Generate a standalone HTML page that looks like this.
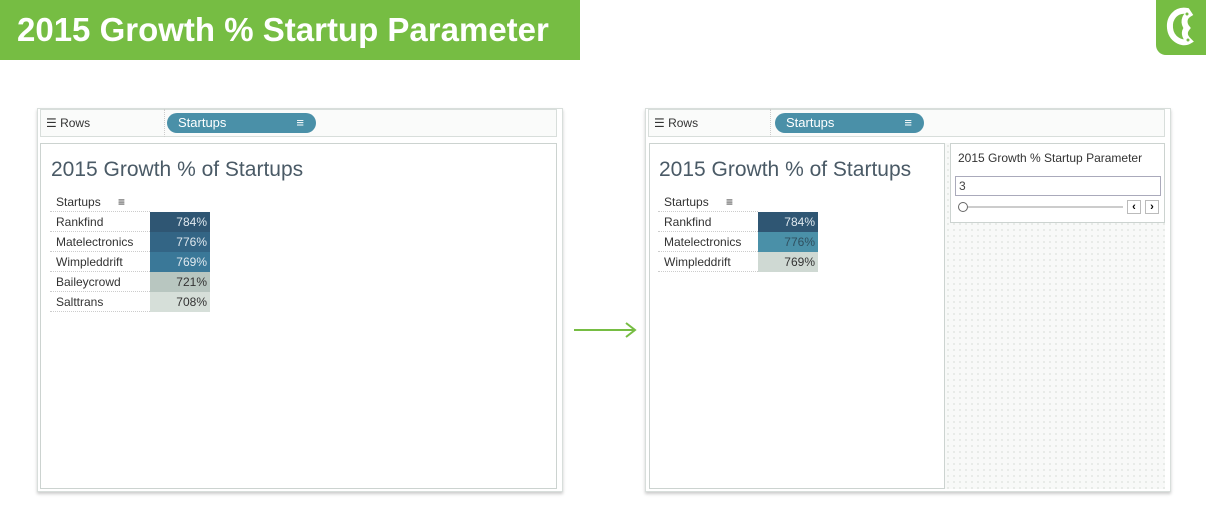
<!DOCTYPE html>
<html><head><meta charset="utf-8"><style>
body{margin:0;width:1206px;height:523px;background:#fff;position:relative;overflow:hidden;font-family:"Liberation Sans",sans-serif;}
.a{position:absolute;box-sizing:border-box;}
.banner{left:0;top:0;width:580px;height:60px;background:#76bd43;color:#fff;font-weight:bold;font-size:33px;line-height:60px;padding-left:17px;}
.logo{left:1156px;top:0;width:50px;height:55px;background:#76bd43;border-bottom-left-radius:10px;}
.frame{border:1px solid #d8dedb;box-shadow:0 2px 3px #ccc;background:#fff;}
.shelf{border:1px solid #d8dedb;background:#fafbfa;}
.pill{background:#4a90a8;border-radius:11px;color:#fff;font-size:13px;line-height:20px;padding-left:11px;}
.panel{border:1px solid #ccd3d0;background:#fff;}
.title{font-size:21px;color:#4a5a66;}
.lab{font-size:12px;color:#333;}
.val{font-size:12px;text-align:right;padding-right:3px;line-height:20px;height:20px;width:60px;}
.txt{font-size:12px;line-height:20px;height:20px;color:#333;border-bottom:1px dotted #ccc;width:100px;padding-left:6px;}
</style></head><body>
<div class="a banner">2015 Growth % Startup Parameter</div>
<div class="a logo"><svg width="50" height="55"><path d="M31 11 C20 9 13 18 14 28 C15 39 26 45 33 41 C29 37 27 33 31 28 C27 23 28 17 33 14Z" fill="none" stroke="#fff" stroke-width="6"/><circle cx="31" cy="14" r="1.5" fill="#76bd43"/><circle cx="32" cy="40" r="1.5" fill="#76bd43"/></svg></div>

<!-- left -->
<div class="a frame" style="left:37px;top:108px;width:526px;height:384px"></div>
<div class="a shelf" style="left:40px;top:109px;width:517px;height:28px"></div>
<div class="a lab" style="left:46px;top:116px;font-size:12px">☰ Rows</div>
<div class="a" style="left:164px;top:109px;border-left:1px dotted #ccc;height:28px"></div>
<div class="a pill" style="left:167px;top:113px;width:149px;height:20px">Startups<span style="position:absolute;right:12px">&#8801;</span></div>
<div class="a panel" style="left:40px;top:143px;width:517px;height:346px"></div>
<div class="a title" style="left:51px;top:158px">2015 Growth % of Startups</div>
<div class="a txt" style="left:50px;top:192px">Startups <span style="margin-left:14px">&#8801;</span></div>
<div class="a txt" style="left:50px;top:212px">Rankfind</div>
<div class="a txt" style="left:50px;top:232px">Matelectronics</div>
<div class="a txt" style="left:50px;top:252px">Wimpleddrift</div>
<div class="a txt" style="left:50px;top:272px">Baileycrowd</div>
<div class="a txt" style="left:50px;top:292px">Salttrans</div>
<div class="a val" style="left:150px;top:212px;background:#2f5673;color:#dfe8ee">784%</div>
<div class="a val" style="left:150px;top:232px;background:#336585;color:#dfe8ee">776%</div>
<div class="a val" style="left:150px;top:252px;background:#3a7898;color:#dfe8ee">769%</div>
<div class="a val" style="left:150px;top:272px;background:#b8c6c0;color:#333">721%</div>
<div class="a val" style="left:150px;top:292px;background:#d6dfd9;color:#333">708%</div>

<!-- arrow -->
<svg class="a" style="left:572px;top:320px" width="66" height="20"><line x1="2" y1="10" x2="62" y2="10" stroke="#76bd43" stroke-width="2"/><polyline points="54,3 63,10 54,17" fill="none" stroke="#76bd43" stroke-width="2"/></svg>

<!-- right -->
<div class="a frame" style="left:645px;top:108px;width:526px;height:384px"></div>
<div class="a shelf" style="left:648px;top:109px;width:517px;height:28px"></div>
<div class="a lab" style="left:654px;top:116px">☰ Rows</div>
<div class="a" style="left:770px;top:109px;border-left:1px dotted #ccc;height:28px"></div>
<div class="a pill" style="left:775px;top:113px;width:149px;height:20px">Startups<span style="position:absolute;right:12px">&#8801;</span></div>
<div class="a panel" style="left:649px;top:143px;width:296px;height:346px"></div>
<div class="a" style="left:945px;top:143px;width:220px;height:346px;background:#f8f9f8;background-image:radial-gradient(#e2e6e3 1px,transparent 1px);background-size:6px 6px"></div>
<div class="a panel" style="left:950px;top:143px;width:215px;height:80px"></div>
<div class="a" style="left:958px;top:151px;font-size:12px;color:#333">2015 Growth % Startup Parameter</div>
<div class="a" style="left:955px;top:176px;width:206px;height:20px;border:1px solid #aab;font-size:12px;line-height:18px;padding-left:3px;color:#444">3</div>
<div class="a" style="left:958px;top:202px;width:10px;height:10px;border:1px solid #666;border-radius:50%;background:#fff"></div>
<div class="a" style="left:968px;top:206px;width:155px;height:2px;background:#ccc"></div>
<div class="a" style="left:1127px;top:200px;width:14px;height:14px;border:1px solid #bbb;font-size:11px;text-align:center;line-height:12px;font-weight:bold">&lsaquo;</div>
<div class="a" style="left:1145px;top:200px;width:14px;height:14px;border:1px solid #bbb;font-size:11px;text-align:center;line-height:12px;font-weight:bold">&rsaquo;</div>
<div class="a title" style="left:659px;top:158px">2015 Growth % of Startups</div>
<div class="a txt" style="left:658px;top:192px">Startups <span style="margin-left:14px">&#8801;</span></div>
<div class="a txt" style="left:658px;top:212px">Rankfind</div>
<div class="a txt" style="left:658px;top:232px">Matelectronics</div>
<div class="a txt" style="left:658px;top:252px">Wimpleddrift</div>
<div class="a val" style="left:758px;top:212px;background:#2f5673;color:#dfe8ee">784%</div>
<div class="a val" style="left:758px;top:232px;background:#4a90a8;color:#2f4f5f">776%</div>
<div class="a val" style="left:758px;top:252px;background:#cfd9d3;color:#333">769%</div>
</body></html>
